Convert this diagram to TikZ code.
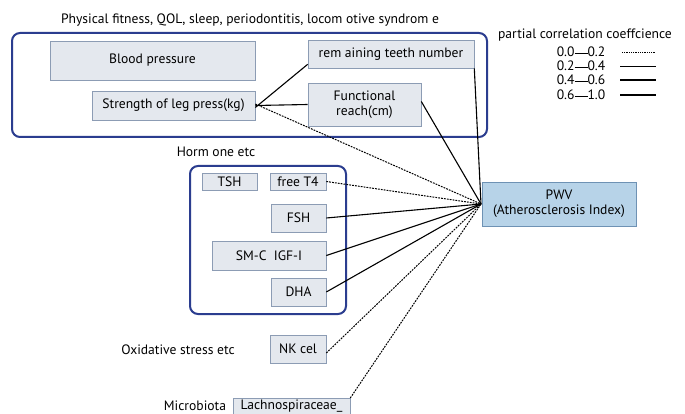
\documentclass[tikz,border=0pt]{standalone}
\usepackage{fontspec}
\setmainfont{PT Sans}
\begin{document}
\begin{tikzpicture}[x=1pt,y=-1pt,
  box/.style={draw=boxline, fill=boxfill, line width=0.6pt, inner sep=0pt, align=center, font=\fontsize{13.6}{15}\selectfont},
  grp/.style={draw=grpline, line width=2pt, rounded corners=8pt},
  lbl/.style={inner sep=0pt, font=\fontsize{13.6}{15}\selectfont},
  weak/.style={line width=1pt, dash pattern=on 1.8pt off 1.1pt},
  mid/.style={line width=1.1pt},
  strong/.style={line width=1.2pt}]
\definecolor{boxfill}{HTML}{E4E8EE}
\definecolor{boxline}{HTML}{8C9CB4}
\definecolor{grpline}{HTML}{2B3D8F}
\definecolor{pwvfill}{HTML}{B7D3E8}
\definecolor{pwvline}{HTML}{6E92B4}
\useasboundingbox[fill=white] (0,0) rectangle (685,414);

% groups
\draw[grp] (12,33) rectangle (487,137);
\draw[grp] (190,166) rectangle (346,314);
\node[lbl] (t1) at (250,20) {Physical fitness, QOL, sleep, periodontitis, locom otive syndrom e};
\node[lbl] (t2) at (216,152) {Horm one etc};
\node[lbl] (t3) at (178,350) {Oxidative stress etc};
\node[lbl] (t4) at (195,406) {Microbiota};

% boxes
\node[box, minimum width=205pt, minimum height=39pt] (bp) at (152.5,60.5) {Blood pressure};
\node[box, minimum width=163pt, minimum height=29pt] (leg) at (173.5,105.5) {Strength of leg press(kg)};
\node[box, minimum width=166pt, minimum height=28pt] (teeth) at (391,54) {rem aining teeth number};
\node[box, minimum width=113pt, minimum height=43pt] (fr) at (364.5,104.5) {Functional\\reach(cm)};
\node[draw=pwvline, fill=pwvfill, line width=0.6pt, inner sep=0pt, align=center, font=\fontsize{13.6}{15}\selectfont, minimum width=154pt, minimum height=44pt] (pwv) at (559,204) {PWV\\(Atherosclerosis Index)};
\node[box, minimum width=55pt, minimum height=17pt] (tsh) at (229.5,181.5) {TSH};
\node[box, minimum width=56pt, minimum height=17pt] (ft4) at (298,181.5) {free T4};
\node[box, minimum width=55pt, minimum height=28pt] (fsh) at (298.5,218) {FSH};
\node[box, minimum width=114pt, minimum height=29pt] (smc) at (269,255.5) {SM-C\ \ IGF-I};
\node[box, minimum width=55pt, minimum height=28pt] (dha) at (298.5,292) {DHA};
\node[box, minimum width=56pt, minimum height=28pt] (nk) at (298,349) {NK cel};
\node[draw=boxline, fill=boxfill, line width=0.6pt, minimum width=117pt, minimum height=24pt, anchor=north, inner sep=0pt] (lach) at (291.5,398) {};
\node[lbl] (lachtext) at (291.5,406) {Lachnospiraceae\_};

\coordinate (c) at (481,204);

% connectors
\draw[mid] (leg.east) -- (fr.west);
\draw[mid] ([yshift=-2pt]leg.east) -- ([yshift=4pt]teeth.south west);
\draw[weak] ([yshift=1.5pt]leg.east) -- (c);
\draw[mid] (teeth.south east) -- (c);
\draw[mid] ([yshift=3pt]fr.east) -- (c);
\draw[weak] (ft4.east) -- (c);
\draw[mid] (fsh.east) -- (c);
\draw[mid] (smc.east) -- (c);
\draw[mid] (dha.east) -- (c);
\draw[weak] ([yshift=-4pt]nk.east) -- (c);
\draw[weak] (lach.north east) -- (c);

% legend
\node[lbl] (lg) at (585,35) {partial correlation coeffcience};
\node[lbl] (l1) at (581,52) {0.0\raisebox{0.5ex}{\rule{13pt}{0.8pt}}0.2};
\node[lbl] (l2) at (581,66) {0.2\raisebox{0.5ex}{\rule{13pt}{0.8pt}}0.4};
\node[lbl] (l3) at (581,80) {0.4\raisebox{0.5ex}{\rule{13pt}{0.8pt}}0.6};
\node[lbl] (l4) at (581,95) {0.6\raisebox{0.5ex}{\rule{13pt}{0.8pt}}1.0};
\draw[line width=0.6pt, dash pattern=on 1pt off 0.8pt] (622,52) -- (655,52);
\draw[line width=0.9pt] (620,66) -- (656,66);
\draw[line width=1.5pt] (620,80) -- (656,80);
\draw[line width=2.2pt] (620,95) -- (656,95);
\end{tikzpicture}
\end{document}
